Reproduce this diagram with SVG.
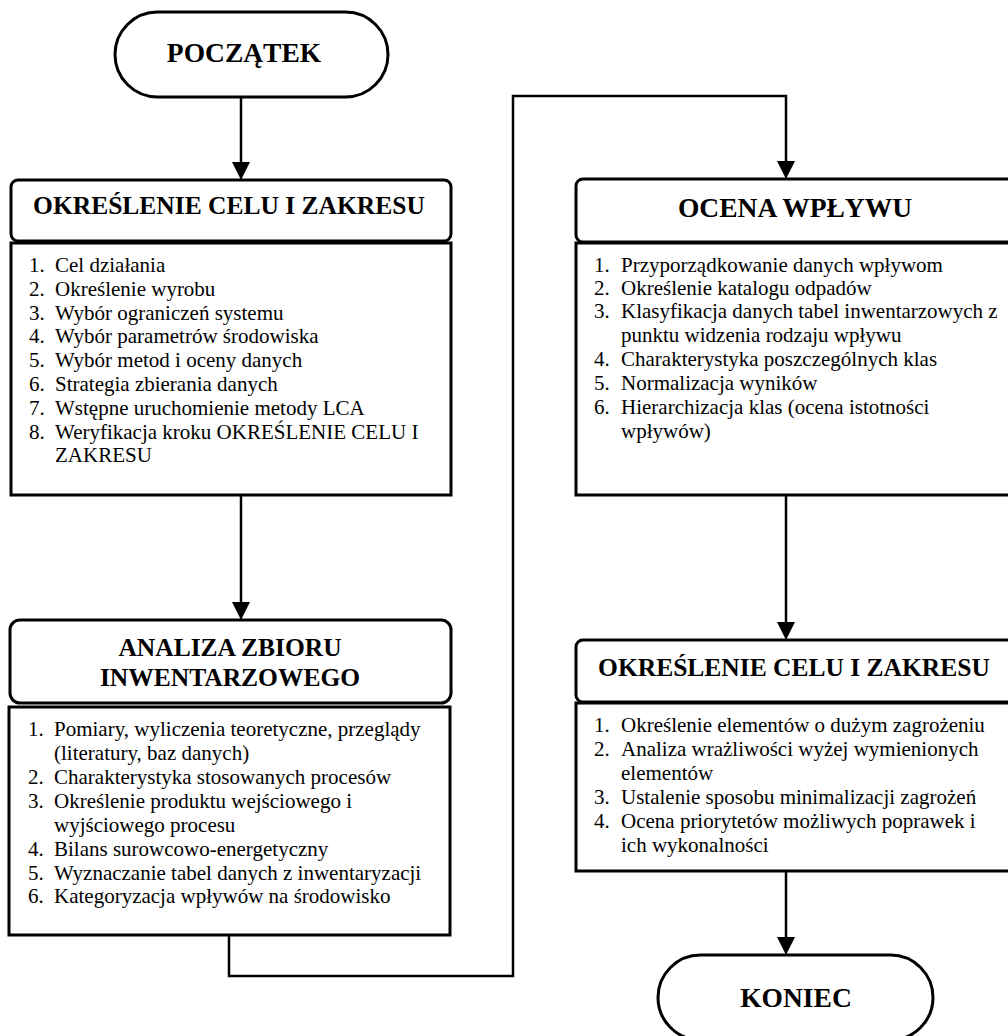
<svg xmlns="http://www.w3.org/2000/svg" width="1008" height="1036" viewBox="0 0 1008 1036">
<style>
  .shape { fill: #fff; stroke: #000; stroke-width: 3; }
  .conn { fill: none; stroke: #000; stroke-width: 2.5; }
  .title { font-family: "Liberation Serif", "Times New Roman", serif; font-weight: bold; font-size: 25.5px; text-anchor: middle; fill: #000; }
  .title-lg { font-family: "Liberation Serif", "Times New Roman", serif; font-weight: bold; font-size: 27.5px; text-anchor: middle; fill: #000; }
  .pill { font-family: "Liberation Serif", "Times New Roman", serif; font-weight: bold; font-size: 27.5px; text-anchor: middle; fill: #000; }
  .item { font-family: "Liberation Serif", "Times New Roman", serif; font-size: 21px; fill: #000; }
</style>
<defs>
  <marker id="arrow" viewBox="0 0 18 18" markerWidth="18" markerHeight="18" refX="8" refY="9" orient="auto" markerUnits="userSpaceOnUse">
    <path d="M0,0 L18,9 L0,18 z" fill="#000"/>
  </marker>
</defs>
<rect width="1008" height="1036" fill="#fff"/>

<g id="connectors">
  <line class="conn" x1="241" y1="97" x2="241" y2="170" marker-end="url(#arrow)"/>
  <line class="conn" x1="241" y1="495" x2="241" y2="610" marker-end="url(#arrow)"/>
  <polyline class="conn" points="229,935 229,976 513,976 513,96 786,96 786,169" marker-end="url(#arrow)"/>
  <line class="conn" x1="786" y1="495" x2="786" y2="630" marker-end="url(#arrow)"/>
  <line class="conn" x1="786" y1="871" x2="786" y2="945" marker-end="url(#arrow)"/>
</g>

<g id="start">
  <rect class="shape" x="115" y="12" width="273" height="85" rx="42.5" ry="42.5"/>
  <text class="pill" x="244" y="62">POCZĄTEK</text>
</g>

<g id="box1">
  <rect class="shape" x="11" y="180" width="440" height="61" rx="7" ry="7"/>
  <text class="title" x="229" y="214">OKREŚLENIE CELU I ZAKRESU</text>
  <rect class="shape" x="11" y="243" width="440" height="252"/>
  <g class="item">
    <text x="29" y="272">1.</text><text x="55" y="272">Cel działania</text>
    <text x="29" y="296">2.</text><text x="55" y="296">Określenie wyrobu</text>
    <text x="29" y="320">3.</text><text x="55" y="320">Wybór ograniczeń systemu</text>
    <text x="29" y="343">4.</text><text x="55" y="343">Wybór parametrów środowiska</text>
    <text x="29" y="367">5.</text><text x="55" y="367">Wybór metod i oceny danych</text>
    <text x="29" y="391">6.</text><text x="55" y="391">Strategia zbierania danych</text>
    <text x="29" y="415">7.</text><text x="55" y="415">Wstępne uruchomienie metody LCA</text>
    <text x="29" y="439">8.</text><text x="55" y="439">Weryfikacja kroku OKREŚLENIE CELU I</text>
    <text x="55" y="462">ZAKRESU</text>
  </g>
</g>

<g id="box2">
  <rect class="shape" x="10" y="620" width="441" height="83" rx="10" ry="10"/>
  <text class="title" x="230" y="656">ANALIZA ZBIORU</text>
  <text class="title" x="230" y="686">INWENTARZOWEGO</text>
  <rect class="shape" x="9" y="707" width="441" height="228"/>
  <g class="item">
    <text x="28" y="736">1.</text><text x="54" y="736">Pomiary, wyliczenia teoretyczne, przeglądy</text>
    <text x="54" y="760">(literatury, baz danych)</text>
    <text x="28" y="784">2.</text><text x="54" y="784">Charakterystyka stosowanych procesów</text>
    <text x="28" y="808">3.</text><text x="54" y="808">Określenie produktu wejściowego i</text>
    <text x="54" y="832">wyjściowego procesu</text>
    <text x="28" y="856">4.</text><text x="54" y="856">Bilans surowcowo-energetyczny</text>
    <text x="28" y="880">5.</text><text x="54" y="880">Wyznaczanie tabel danych z inwentaryzacji</text>
    <text x="28" y="903">6.</text><text x="54" y="903">Kategoryzacja wpływów na środowisko</text>
  </g>
</g>

<g id="box3">
  <rect class="shape" x="576" y="179" width="440" height="63" rx="7" ry="7"/>
  <text class="title-lg" x="795" y="217">OCENA WPŁYWU</text>
  <rect class="shape" x="576" y="243" width="440" height="252"/>
  <g class="item">
    <text x="594" y="272">1.</text><text x="621" y="272">Przyporządkowanie danych wpływom</text>
    <text x="594" y="295">2.</text><text x="621" y="295">Określenie katalogu odpadów</text>
    <text x="594" y="318">3.</text><text x="621" y="318">Klasyfikacja danych tabel inwentarzowych z</text>
    <text x="621" y="342">punktu widzenia rodzaju wpływu</text>
    <text x="594" y="366">4.</text><text x="621" y="366">Charakterystyka poszczególnych klas</text>
    <text x="594" y="390">5.</text><text x="621" y="390">Normalizacja wyników</text>
    <text x="594" y="414">6.</text><text x="621" y="414">Hierarchizacja klas (ocena istotności</text>
    <text x="621" y="438">wpływów)</text>
  </g>
</g>

<g id="box4">
  <rect class="shape" x="576" y="640" width="440" height="62" rx="7" ry="7"/>
  <text class="title" x="794" y="676">OKREŚLENIE CELU I ZAKRESU</text>
  <rect class="shape" x="576" y="703" width="440" height="168"/>
  <g class="item">
    <text x="594" y="732">1.</text><text x="621" y="732">Określenie elementów o dużym zagrożeniu</text>
    <text x="594" y="756">2.</text><text x="621" y="756">Analiza wrażliwości wyżej wymienionych</text>
    <text x="621" y="780">elementów</text>
    <text x="594" y="804">3.</text><text x="621" y="804">Ustalenie sposobu minimalizacji zagrożeń</text>
    <text x="594" y="828">4.</text><text x="621" y="828">Ocena priorytetów możliwych poprawek i</text>
    <text x="621" y="852">ich wykonalności</text>
  </g>
</g>

<g id="end">
  <rect class="shape" x="658" y="955" width="275" height="85" rx="42.5" ry="42.5"/>
  <text class="pill" x="796" y="1007">KONIEC</text>
</g>
</svg>
